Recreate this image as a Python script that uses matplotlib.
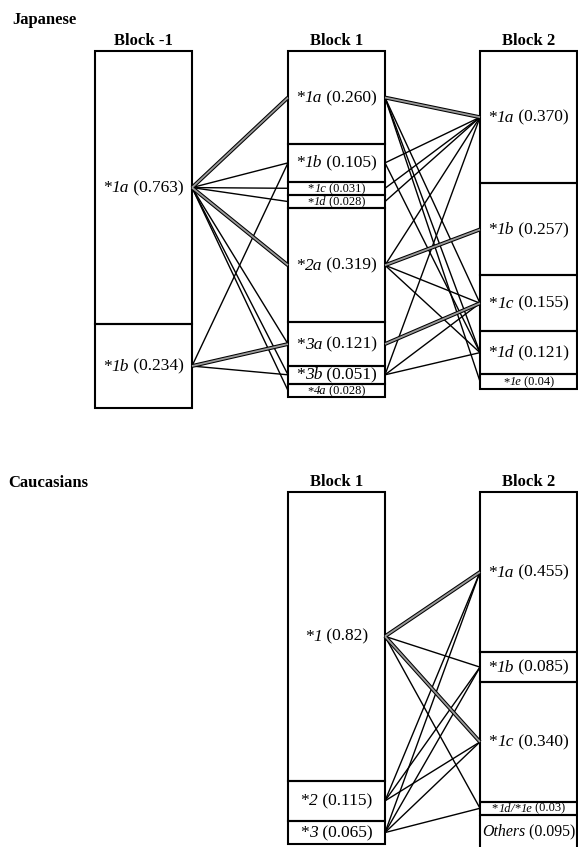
import matplotlib.pyplot as plt
from matplotlib.offsetbox import AnnotationBbox, HPacker, TextArea
from matplotlib.patches import Rectangle

plt.rcParams["font.family"] = ["Liberation Serif", "DejaVu Serif"]

# Japanese haplotype blocks: allele names and frequencies
jp_bm1_names = ["*1a", "*1b"]
jp_bm1_freqs = ["0.763", "0.234"]
jp_b1_names = ["*1a", "*1b", "*1c", "*1d", "*2a", "*3a", "*3b", "*4a"]
jp_b1_freqs = ["0.260", "0.105", "0.031", "0.028", "0.319", "0.121", "0.051", "0.028"]
jp_b2_names = ["*1a", "*1b", "*1c", "*1d", "*1e"]
jp_b2_freqs = ["0.370", "0.257", "0.155", "0.121", "0.04"]

# Caucasian haplotype blocks
ca_b1_names = ["*1", "*2", "*3"]
ca_b1_freqs = ["0.82", "0.115", "0.065"]
ca_b2_names = ["*1a", "*1b", "*1c", "*1d/*1e", "Others"]
ca_b2_freqs = ["0.455", "0.085", "0.340", "0.03", "0.095"]

# links between blocks: (left haplotype, right haplotype, strong)
jp_links_m1_1 = [
    ("*1a", "*1a", True), ("*1a", "*1b", False), ("*1a", "*1c", False),
    ("*1a", "*1d", False), ("*1a", "*2a", True), ("*1a", "*3a", False),
    ("*1a", "*3b", False), ("*1a", "*4a", False),
    ("*1b", "*1b", False), ("*1b", "*3a", True), ("*1b", "*3b", False),
]
jp_links_1_2 = [
    ("*1a", "*1a", True), ("*1a", "*1c", False), ("*1a", "*1d", False),
    ("*1a", "*1e", False), ("*1b", "*1a", False), ("*1b", "*1d", False),
    ("*1c", "*1a", False), ("*1d", "*1a", False),
    ("*2a", "*1a", False), ("*2a", "*1b", True), ("*2a", "*1c", False),
    ("*2a", "*1d", False), ("*3a", "*1c", True),
    ("*3b", "*1a", False), ("*3b", "*1c", False), ("*3b", "*1d", False),
]
ca_links_1_2 = [
    ("*1", "*1a", True), ("*1", "*1b", False), ("*1", "*1c", True),
    ("*1", "*1d/*1e", False),
    ("*2", "*1a", False), ("*2", "*1b", False), ("*2", "*1c", False),
    ("*3", "*1a", False), ("*3", "*1b", False), ("*3", "*1c", False),
    ("*3", "*1d/*1e", False),
]

BOX_W = 97
MIN_H = 0.037


def name_pieces(name):
    """Split an allele name into (text, italic) pieces: star upright, rest italic."""
    if not name.startswith("*"):
        return [(name, True)]
    pieces = []
    for i, part in enumerate(name.split("/")):
        if i:
            pieces.append(("/", True))
        pieces.append(("*", False))
        pieces.append((part[1:], True))
    return pieces


def add_label(ax, x, y, pieces, size):
    areas = [
        TextArea(t, textprops=dict(fontsize=size, fontstyle="italic" if it else "normal"))
        for t, it in pieces
    ]
    box = HPacker(children=areas, align="baseline", pad=0, sep=0)
    ab = AnnotationBbox(box, (x, y), frameon=False, box_alignment=(0.5, 0.5), pad=0)
    ax.add_artist(ab)
    return ab, box


def label(ax, x, y, name, freq, size):
    pieces = name_pieces(name) + [(f" ({freq})", False)]
    ab, box = add_label(ax, x, y, pieces, size)
    # shrink the text if it would spill out of the box
    w = box.get_bbox(ax.figure.canvas.get_renderer()).width
    if w > BOX_W - 4:
        ab.remove()
        add_label(ax, x, y, pieces, size * (BOX_W - 4) / w)


def draw_block(ax, x, top, names, freqs, title, scale):
    """Stacked boxes for one haplotype block; returns the mid y of each box."""
    ax.text(x + BOX_W / 2, top - 2, title, ha="center", va="bottom",
            fontsize=12, fontweight="bold")
    mids = {}
    y = top
    for name, freq in zip(names, freqs):
        h = max(float(freq), MIN_H) * scale
        ax.add_patch(Rectangle((x, y), BOX_W, h, fill=False, lw=1.5, ec="black"))
        small = h < 16
        label(ax, x + BOX_W / 2, y + h / 2 + 0.5, name, freq, 9 if small else 12.5)
        mids[name] = y + h / 2
        y += h
    return mids


def draw_links(ax, x0, left, x1, right, links):
    for a, b, strong in links:
        xs, ys = [x0, x1], [left[a], right[b]]
        if strong:
            ax.plot(xs, ys, color="black", lw=2.8, solid_capstyle="butt", zorder=3)
            ax.plot(xs, ys, color="#9a9a9a", lw=1.3, solid_capstyle="butt", zorder=4)
        else:
            ax.plot(xs, ys, color="black", lw=1.0, zorder=2)


fig = plt.figure(figsize=(5.78, 8.47), dpi=100)
ax = fig.add_axes([0, 0, 1, 1])
ax.set_xlim(0, 578)
ax.set_ylim(847, 0)
ax.axis("off")

cols = [95, 288, 480]

# Japanese panel
ax.text(12, 20, "Japanese", ha="left", va="center", fontsize=12, fontweight="bold")
jp_m1 = draw_block(ax, cols[0], 51, jp_bm1_names, jp_bm1_freqs, "Block -1", 358)
jp_1 = draw_block(ax, cols[1], 51, jp_b1_names, jp_b1_freqs, "Block 1", 358)
jp_2 = draw_block(ax, cols[2], 51, jp_b2_names, jp_b2_freqs, "Block 2", 358)
draw_links(ax, cols[0] + BOX_W, jp_m1, cols[1], jp_1, jp_links_m1_1)
draw_links(ax, cols[1] + BOX_W, jp_1, cols[2], jp_2, jp_links_1_2)

# Caucasian panel
ax.text(8, 483, "Caucasians", ha="left", va="center", fontsize=12, fontweight="bold")
ca_1 = draw_block(ax, cols[1], 492, ca_b1_names, ca_b1_freqs, "Block 1", 352)
ca_2 = draw_block(ax, cols[2], 492, ca_b2_names, ca_b2_freqs, "Block 2", 352)
draw_links(ax, cols[1] + BOX_W, ca_1, cols[2], ca_2, ca_links_1_2)

plt.savefig("out.png", dpi=100)
